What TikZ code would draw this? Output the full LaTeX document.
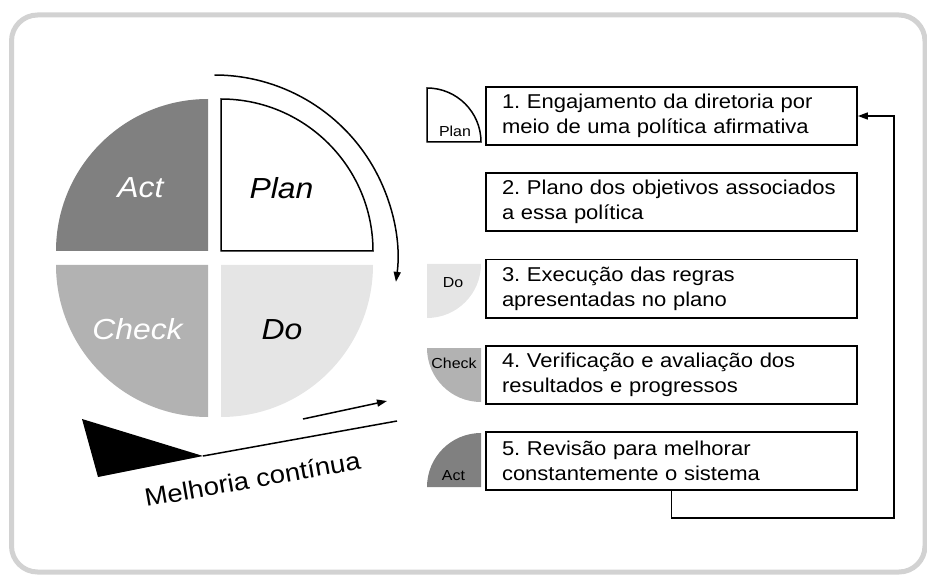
\documentclass[tikz,border=0pt]{standalone}
\usepackage{fontspec}
\setmainfont{Liberation Sans}[FakeStretch=1.1]
\usetikzlibrary{arrows.meta,positioning}
\definecolor{actcor}{gray}{0.5}
\definecolor{checkcor}{gray}{0.7}
\definecolor{docor}{gray}{0.9}
\frenchspacing
\hyphenpenalty=10000

\begin{document}
\begin{tikzpicture}[x=1pt,y=1pt,
    etapa/.style={draw,line width=1.8pt,minimum width=371pt,minimum height=58pt,
        text width=339pt,inner xsep=16pt,inner ysep=2pt,align=left,
        font=\fontsize{20}{25}\selectfont},
    rotulo/.style={anchor=base,font=\fontsize{29}{30}\selectfont\itshape},
    mini/.style={anchor=base,font=\fontsize{14.5}{15}\selectfont},
    seta/.style={line width=1.5pt,-{Triangle[length=10pt,width=7pt]}},
    node distance=26.5pt]
    \useasboundingbox (0,0) rectangle (927,574);
    \draw[gray!35,line width=5pt,rounded corners=26pt] (11.5,2) rectangle (925,559);
    % ciclo PDCA
    \fill[actcor] (208,323)--(56,323) arc (180:90:152)--cycle;
    \draw[line width=1.5pt,fill=white] (221,323)--(373,323) arc (0:90:152)--cycle;
    \fill[checkcor] (208,309)--(208,157) arc (270:180:152)--cycle;
    \fill[docor] (221,309)--(373,309) arc (0:-90:152)--cycle;
    \node[rotulo,white] (act) at (140.5,376) {Act};
    \node[rotulo] (plan) at (281.5,375) {Plan};
    \node[rotulo,white] (check) at (137.5,235) {Check};
    \node[rotulo] (do) at (282,235) {Do};
    \draw[seta] (214.5,499) arc (90:-7.5:183);
    % melhoria continua
    \fill (82,155)--(98,97)--(203,118)--cycle;
    \draw[line width=1.5pt] (203,118)--(397,153);
    \draw[seta] (303,155)--(387,173);
    \node[anchor=base,rotate=10,font=\fontsize{25}{26}\selectfont] (melhoria) at (254,86) {Melhoria contínua};
    % etapas
    \draw[line width=1.5pt,fill=white] (427,432)--(481,432) arc (0:90:54)--cycle;
    \fill[docor] (427,310)--(481,310) arc (0:-90:54)--cycle;
    \fill[checkcor] (481,226)--(427,226) arc (180:270:54)--cycle;
    \fill[actcor] (481,87)--(427,87) arc (180:90:54)--cycle;
    \node[mini] (iplan) at (455,437) {Plan};
    \node[mini] (ido) at (453,287) {Do};
    \node[mini] (icheck) at (454,206) {Check};
    \node[mini] (iact) at (453.5,94) {Act};
    \node[etapa] (b1) at (671.5,458) {1. Engajamento da diretoria por\\meio de uma política afirmativa};
    \node[etapa,below=of b1] (b2) {2. Plano dos objetivos associados\\a essa política};
    \node[etapa,below=of b2] (b3) {3. Execução das regras\\apresentadas no plano};
    \node[etapa,below=of b3] (b4) {4. Verificação e avaliação dos\\resultados e progressos};
    \node[etapa,below=of b4] (b5) {5. Revisão para melhorar\\constantemente o sistema};
    \coordinate (volta) at (894,56);
    \draw[seta,line width=1.6pt] (b5.south) |- (volta) |- (b1.east);
\end{tikzpicture}
\end{document}
